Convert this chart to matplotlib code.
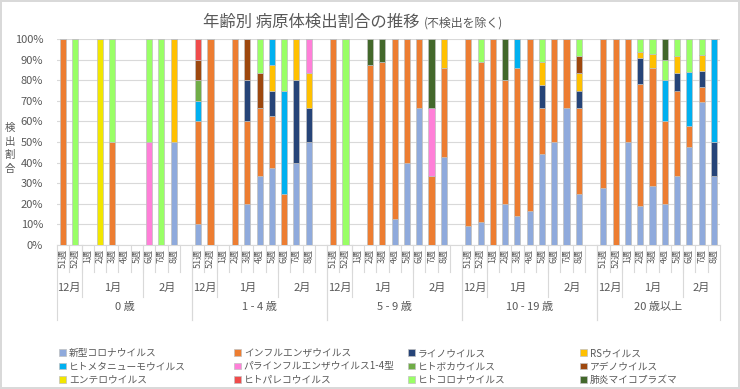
import matplotlib
matplotlib.use("Agg")
import matplotlib.pyplot as plt

plt.rcParams['font.family'] = ['Noto Sans CJK JP', 'DejaVu Sans']

# categories
ages = ["0 歳", "1 - 4 歳", "5 - 9 歳", "10 - 19 歳", "20 歳以上"]
weeks = ["51週", "52週", "1週", "2週", "3週", "4週", "5週", "6週", "7週", "8週"]
months = ["12月", "1月", "2月"]

# percentages, 10 weeks per age group (0歳, 1-4, 5-9, 10-19, 20+)
covid = [0, 0, 0, 0, 0, 0, 0, 0, 0, 50,
         10, 0, 0, 0, 20, 33.3, 37.5, 0, 40, 50,
         0, 0, 0, 0, 0, 12.5, 40, 66.7, 0, 42.9,
         9.1, 11.1, 0, 20, 14.3, 16.7, 44.4, 50, 66.7, 25,
         27.8, 0, 50, 18.8, 28.6, 20, 33.3, 47.4, 69.2, 33.3]
flu = [100, 0, 0, 0, 50, 0, 0, 0, 0, 0,
       50, 100, 0, 100, 40, 33.3, 25, 25, 0, 0,
       100, 0, 0, 87.5, 88.9, 87.5, 60, 33.3, 33.3, 42.9,
       90.9, 77.8, 100, 60, 71.4, 83.3, 22.2, 50, 33.3, 41.7,
       72.2, 100, 50, 59.4, 57.1, 40, 41.7, 10.5, 7.7, 0]
rhino = [0, 0, 0, 0, 0, 0, 0, 0, 0, 0,
         0, 0, 0, 0, 20, 0, 12.5, 0, 40, 16.7,
         0, 0, 0, 0, 0, 0, 0, 0, 0, 0,
         0, 0, 0, 0, 0, 0, 11.1, 0, 0, 8.3,
         0, 0, 0, 12.5, 0, 0, 8.3, 0, 7.7, 16.7]
rsv = [0, 0, 0, 0, 0, 0, 0, 0, 0, 50,
       0, 0, 0, 0, 0, 0, 12.5, 0, 20, 16.7,
       0, 0, 0, 0, 0, 0, 0, 0, 0, 14.3,
       0, 0, 0, 0, 0, 0, 11.1, 0, 0, 8.3,
       0, 0, 0, 3.1, 7.1, 0, 8.3, 0, 7.7, 0]
hmpv = [0, 0, 0, 0, 0, 0, 0, 0, 0, 0,
        10, 0, 0, 0, 0, 0, 12.5, 50, 0, 0,
        0, 0, 0, 0, 0, 0, 0, 0, 0, 0,
        0, 0, 0, 0, 14.3, 0, 0, 0, 0, 0,
        0, 0, 0, 0, 0, 20, 0, 26.3, 0, 50]
para = [0, 0, 0, 0, 0, 0, 0, 50, 0, 0,
        0, 0, 0, 0, 0, 0, 0, 0, 0, 16.7,
        0, 0, 0, 0, 0, 0, 0, 0, 33.3, 0,
        0, 0, 0, 0, 0, 0, 0, 0, 0, 0,
        0, 0, 0, 0, 0, 0, 0, 0, 0, 0]
boca = [0, 0, 0, 0, 0, 0, 0, 0, 0, 0,
        10, 0, 0, 0, 0, 0, 0, 0, 0, 0,
        0, 0, 0, 0, 0, 0, 0, 0, 0, 0,
        0, 0, 0, 0, 0, 0, 0, 0, 0, 0,
        0, 0, 0, 0, 0, 0, 0, 0, 0, 0]
adeno = [0, 0, 0, 0, 0, 0, 0, 0, 0, 0,
         10, 0, 0, 0, 20, 16.7, 0, 0, 0, 0,
         0, 0, 0, 0, 0, 0, 0, 0, 0, 0,
         0, 0, 0, 0, 0, 0, 0, 0, 0, 8.3,
         0, 0, 0, 0, 0, 0, 0, 0, 0, 0]
entero = [0, 0, 0, 100, 0, 0, 0, 0, 0, 0,
          0, 0, 0, 0, 0, 0, 0, 0, 0, 0,
          0, 0, 0, 0, 0, 0, 0, 0, 0, 0,
          0, 0, 0, 0, 0, 0, 0, 0, 0, 0,
          0, 0, 0, 0, 0, 0, 0, 0, 0, 0]
pareco = [0, 0, 0, 0, 0, 0, 0, 0, 0, 0,
          10, 0, 0, 0, 0, 0, 0, 0, 0, 0,
          0, 0, 0, 0, 0, 0, 0, 0, 0, 0,
          0, 0, 0, 0, 0, 0, 0, 0, 0, 0,
          0, 0, 0, 0, 0, 0, 0, 0, 0, 0]
hcov = [0, 100, 0, 0, 50, 0, 0, 50, 100, 0,
        0, 0, 0, 0, 0, 16.7, 0, 25, 0, 0,
        0, 100, 0, 0, 0, 0, 0, 0, 0, 0,
        0, 11.1, 0, 0, 0, 0, 11.1, 0, 0, 8.3,
        0, 0, 0, 6.3, 7.1, 10, 8.3, 15.8, 7.7, 0]
myco = [0, 0, 0, 0, 0, 0, 0, 0, 0, 0,
        0, 0, 0, 0, 0, 0, 0, 0, 0, 0,
        0, 0, 0, 12.5, 11.1, 0, 0, 0, 33.3, 0,
        0, 0, 0, 20, 0, 0, 0, 0, 0, 0,
        0, 0, 0, 0, 0, 10, 0, 0, 0, 0]

series = [covid, flu, rhino, rsv, hmpv, para, boca, adeno, entero, pareco, hcov, myco]
names = ["新型コロナウイルス", "インフルエンザウイルス", "ライノウイルス", "RSウイルス",
         "ヒトメタニューモウイルス", "パラインフルエンザウイルス1-4型", "ヒトボカウイルス", "アデノウイルス",
         "エンテロウイルス", "ヒトパレコウイルス", "ヒトコロナウイルス", "肺炎マイコプラズマ"]
colors = ["#8FAADC", "#ED7D31", "#264478", "#FFC000",
          "#00B0F0", "#FF7FD8", "#70AD47", "#9E480E",
          "#F2E600", "#F04B4B", "#99FF66", "#43682B"]

grey = "#595959"
line_c = "#d9d9d9"
W, H = 740, 389

fig = plt.figure(figsize=(7.4, 3.89), dpi=100)
fig.patch.set_edgecolor(line_c)
fig.patch.set_linewidth(1.5)
ax = fig.add_axes([57 / W, 1 - 245 / H, 663 / W, 206 / H])

# x positions: 11 slots per group (last slot left empty), no gap after last group
xs = [g * 11 + i for g in range(len(ages)) for i in range(len(weeks))]

bottom = [0] * len(xs)
handles = []
for vals, name, col in zip(series, names, colors):
    b = ax.bar(xs, vals, bottom=bottom, width=0.5, color=col, edgecolor="#c0c0c0",
               linewidth=0.5, label=name, zorder=3)
    handles.append(b)
    bottom = [a + v for a, v in zip(bottom, vals)]

ax.set_xlim(-0.5, (len(ages) - 1) * 11 + len(weeks) - 0.5)
ax.set_ylim(0, 100)
ax.set_yticks(range(0, 101, 10))
ax.set_yticklabels([f"{v}%" for v in range(0, 101, 10)], fontsize=8, color=grey)
ax.yaxis.grid(True, color=line_c, linewidth=0.8, zorder=0)
ax.set_xticks(xs)
ax.set_xticklabels(weeks * len(ages), rotation=90, fontsize=6.5, color=grey)
ax.tick_params(length=0)
ax.tick_params(axis="x", pad=3)
ax.tick_params(axis="y", pad=10)
for s in ["top", "right", "left"]:
    ax.spines[s].set_visible(False)
ax.spines["bottom"].set_color(line_c)

# multi-level category axis
tr = ax.get_xaxis_transform()
for g, age in enumerate(ages):
    start = g * 11
    end = start + (11 if g < len(ages) - 1 else 10)
    # week boundaries
    for k in range(start + 1, end):
        ax.plot([k - 0.5, k - 0.5], [0, -0.13], transform=tr, color=line_c, lw=0.8, clip_on=False)
    # month boundaries
    for k in [start + 2, start + 7]:
        ax.plot([k - 0.5, k - 0.5], [0, -0.25], transform=tr, color=line_c, lw=0.8, clip_on=False)
    # group boundaries
    ax.plot([start - 0.5, start - 0.5], [0, -0.365], transform=tr, color=line_c, lw=0.8, clip_on=False)
    ax.plot([end - 0.5, end - 0.5], [0, -0.365], transform=tr, color=line_c, lw=0.8, clip_on=False)
    spans = [(start, start + 1), (start + 2, start + 6), (start + 7, end - 1)]
    for m, (a, b) in zip(months, spans):
        ax.text((a + b) / 2, -0.21, m, transform=tr, ha="center", va="center", fontsize=8, color=grey)
    ax.text((start + end - 1) / 2, -0.30, age, transform=tr, ha="center", va="center", fontsize=8, color=grey)

# vertical y-axis title, one character per line
for i, ch in enumerate("検出割合"):
    fig.text(10 / W, 1 - (128 + i * 13.7) / H, ch, ha="center", va="center", fontsize=7.5, color=grey)

# title
t1 = fig.text(203 / W, 1 - 27 / H, "年齢別 病原体検出割合の推移", ha="left", va="baseline",
              fontsize=11.8, color=grey)
fig.canvas.draw()
x_end = t1.get_window_extent().x1
fig.text((x_end + 4) / W, 1 - 27 / H, "(不検出を除く)", ha="left", va="baseline", fontsize=8.6, color=grey)

# legend: 4 columns laid out row-wise
col_x = [59, 234, 408, 580]
for c, x in enumerate(col_x):
    idx = [c, c + 4, c + 8]
    fig.legend([handles[i] for i in idx], [names[i] for i in idx], loc="upper left",
               bbox_to_anchor=(x / W, 1 - 348 / H), frameon=False, fontsize=7,
               handlelength=0.7, handleheight=0.7, handletextpad=0.3, labelspacing=0.35,
               borderpad=0, borderaxespad=0, labelcolor=grey)

fig.savefig("out.png", dpi=100)
